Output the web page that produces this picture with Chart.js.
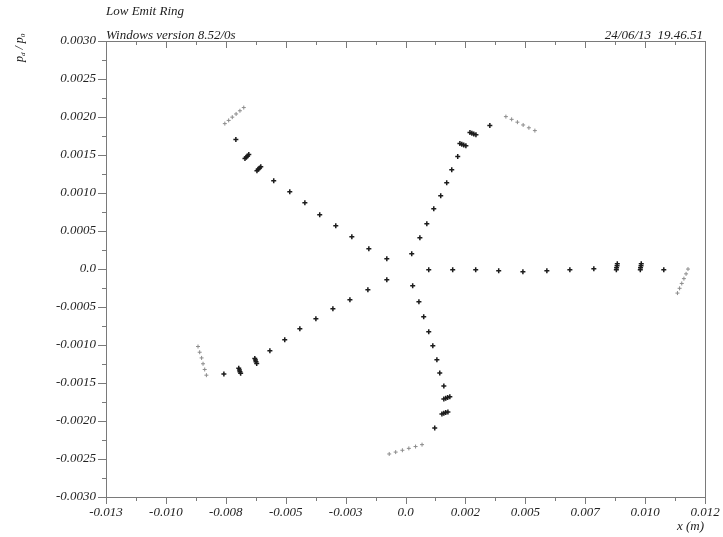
<!DOCTYPE html>
<html>
<head>
<meta charset="utf-8">
<script src="https://cdn.jsdelivr.net/npm/chart.js@4"></script>
<style>
  body { margin: 0; background: #fff; }
  #wrap { width: 723px; height: 537px; }
</style>
</head>
<body>
<div id="wrap"><canvas id="chart" width="723" height="537"></canvas></div>
<script>
// header texts
const runTitle = "Low Emit Ring";
const versionText = "Windows version 8.52/0s";
const stampText = "24/06/13  19.46.51";
const xTitle = "x (m)";

// tick labels (as printed on the plot)
const xTickLabels = ["-0.013", "-0.010", "-0.008", "-0.005", "-0.003", "0.0", "0.002", "0.005", "0.007", "0.010", "0.012"];
const yTickLabels = ["-0.0030", "-0.0025", "-0.0020", "-0.0015", "-0.0010", "-0.0005", "0.0",
  "0.0005", "0.0010", "0.0015", "0.0020", "0.0025", "0.0030"];

// tracked particles, 5 arms (x in m, dp/p0)
const ulX = [-0.00078, -0.00153, -0.00224, -0.00291, -0.00358, -0.00420, -0.00483, -0.00550, -0.00620, -0.00615, -0.00609, -0.00604, -0.00670, -0.00665, -0.00659, -0.00654, -0.00708];
const ulY = [0.000135, 0.000267, 0.000425, 0.000570, 0.000715, 0.000873, 0.001018, 0.001162, 0.001294, 0.001311, 0.001329, 0.001346, 0.001453, 0.001470, 0.001488, 0.001505, 0.001703];
const urX = [0.00026, 0.00060, 0.00089, 0.00118, 0.00147, 0.00172, 0.00193, 0.00218, 0.00227, 0.00235, 0.00243, 0.00252, 0.00269, 0.00277, 0.00285, 0.00294, 0.00352];
const urY = [0.000201, 0.000412, 0.000596, 0.000794, 0.000965, 0.001136, 0.001307, 0.001479, 0.001651, 0.001642, 0.001632, 0.001622, 0.001796, 0.001787, 0.001777, 0.001767, 0.001887];
const rX = [0.00097, 0.00197, 0.00293, 0.00389, 0.00490, 0.00590, 0.00686, 0.00786, 0.00884, 0.00883, 0.00881, 0.00880, 0.00984, 0.00983, 0.00981, 0.00980, 0.01078];
const rY = [-0.000010, -0.000010, -0.000010, -0.000023, -0.000036, -0.000023, -0.000010, 0.000003, 0.000070, 0.000043, 0.000017, -0.000010, 0.000070, 0.000043, 0.000017, -0.000010, -0.000010];
const llX = [-0.00078, -0.00157, -0.00232, -0.00303, -0.00374, -0.00441, -0.00504, -0.00566, -0.00629, -0.00626, -0.00624, -0.00621, -0.00696, -0.00693, -0.00691, -0.00688, -0.00758];
const llY = [-0.000142, -0.000273, -0.000405, -0.000524, -0.000655, -0.000787, -0.000932, -0.001077, -0.001176, -0.001198, -0.001220, -0.001242, -0.001307, -0.001329, -0.001351, -0.001373, -0.001380];
const lwX = [0.00030, 0.00056, 0.00076, 0.00097, 0.00114, 0.00131, 0.00143, 0.00160, 0.00160, 0.00168, 0.00176, 0.00185, 0.00152, 0.00160, 0.00168, 0.00177, 0.00122];
const lwY = [-0.000221, -0.000431, -0.000629, -0.000827, -0.001011, -0.001195, -0.001367, -0.001538, -0.001710, -0.001701, -0.001691, -0.001682, -0.001908, -0.001899, -0.001889, -0.001880, -0.002091];

// outermost particle (grey crosses)
const ulOutX = [-0.00754, -0.00738, -0.00723, -0.00707, -0.00691, -0.00675];
const ulOutY = [0.001913, 0.001955, 0.001998, 0.002040, 0.002082, 0.002124];
const urOutX = [0.00419, 0.00443, 0.00467, 0.00491, 0.00515, 0.00540];
const urOutY = [0.002005, 0.001969, 0.001932, 0.001895, 0.001858, 0.001821];
const rOutX = [0.01179, 0.01171, 0.01162, 0.01153, 0.01144, 0.01135];
const rOutY = [-0.000001, -0.000064, -0.000127, -0.000190, -0.000254, -0.000317];
const llOutX = [-0.00866, -0.00859, -0.00851, -0.00845, -0.00838, -0.00831];
const llOutY = [-0.001020, -0.001095, -0.001170, -0.001247, -0.001322, -0.001397];
const lwOutX = [-0.00068, -0.00041, -0.00013, 0.00014, 0.00042, 0.00069];
const lwOutY = [-0.002434, -0.002409, -0.002385, -0.002360, -0.002336, -0.002311];

const toPoints = (pairs) => pairs.flatMap(([xs, ys]) => xs.map((x, i) => ({ x: x, y: ys[i] })));

const X_MIN = -0.0125, X_MAX = 0.0125, X_STEP = 0.00125;
const Y_MIN = -0.003, Y_MAX = 0.003, Y_STEP = 0.00025;
const xIndex = (v) => Math.round((v - X_MIN) / X_STEP);
const yIndex = (v) => Math.round((v - Y_MIN) / Y_STEP);

const serif = "'Liberation Serif', 'DejaVu Serif', serif";

// draws the box, the tick marks (major/minor) and the header texts
const framePlugin = {
  id: "frame",
  afterDraw(chart) {
    const ctx = chart.ctx;
    const a = chart.chartArea;
    const xs = chart.scales.x, ys = chart.scales.y;
    ctx.save();
    ctx.strokeStyle = "#7a7a7a";
    ctx.lineWidth = 1;
    ctx.strokeRect(Math.round(a.left) + 0.5, Math.round(a.top) + 0.5,
      Math.round(a.right - a.left), Math.round(a.bottom - a.top));
    ctx.beginPath();
    xs.ticks.forEach((t) => {
      const px = Math.round(xs.getPixelForValue(t.value)) + 0.5;
      const len = xIndex(t.value) % 2 === 0 ? 7 : 4;
      ctx.moveTo(px, Math.round(a.bottom));
      ctx.lineTo(px, Math.round(a.bottom) + len);
      ctx.moveTo(px, Math.round(a.top));
      ctx.lineTo(px, Math.round(a.top) + len);
    });
    ys.ticks.forEach((t) => {
      const py = Math.round(ys.getPixelForValue(t.value)) + 0.5;
      const len = yIndex(t.value) % 2 === 0 ? 8 : 4;
      ctx.moveTo(Math.round(a.left), py);
      ctx.lineTo(Math.round(a.left) - len, py);
    });
    ctx.stroke();

    ctx.fillStyle = "#222";
    ctx.font = "italic 13px " + serif;
    ctx.textBaseline = "middle";
    ctx.textAlign = "left";
    ctx.fillText(runTitle, a.left, 12);
    ctx.fillText(versionText, a.left, 36);
    ctx.textAlign = "right";
    ctx.fillText(stampText, a.right - 2, 36);
    ctx.fillText(xTitle, a.right - 1, 527);

    // y title p_d / p_0, rotated
    ctx.translate(19, 62);
    ctx.rotate(-Math.PI / 2);
    ctx.textAlign = "left";
    ctx.textBaseline = "alphabetic";
    let cx = 0;
    const put = (s, size, dy) => {
      ctx.font = "italic " + size + "px " + serif;
      ctx.fillText(s, cx, dy);
      cx += ctx.measureText(s).width;
    };
    put("p", 12, 4);
    put("d", 7, 6);
    put(" / p", 12, 4);
    put("0", 7, 6);
    ctx.restore();
  }
};

new Chart(document.getElementById("chart").getContext("2d"), {
  type: "scatter",
  data: {
    datasets: [
      {
        label: "tracked",
        data: toPoints([[ulX, ulY], [urX, urY], [rX, rY], [llX, llY], [lwX, lwY]]),
        pointStyle: "cross",
        pointRadius: 2.5,
        borderWidth: 1.5,
        borderColor: "#1c1c1c",
        backgroundColor: "#1c1c1c",
      },
      {
        label: "outer",
        data: toPoints([[ulOutX, ulOutY], [urOutX, urOutY], [rOutX, rOutY], [llOutX, llOutY], [lwOutX, lwOutY]]),
        pointStyle: "cross",
        pointRadius: 2,
        borderWidth: 1,
        borderColor: "#8c8c8c",
        backgroundColor: "#8c8c8c",
      },
    ],
  },
  options: {
    responsive: false,
    devicePixelRatio: 1,
    animation: false,
    events: [],
    layout: { padding: { top: 41, right: 18, left: 0, bottom: 0 } },
    plugins: {
      legend: { display: false },
      tooltip: { enabled: false },
    },
    scales: {
      x: {
        type: "linear",
        min: X_MIN,
        max: X_MAX,
        border: { display: false },
        grid: { display: false, drawTicks: false },
        afterFit: (scale) => {
          scale.height = 40;
          scale.paddingLeft = 0;
          scale.paddingRight = 0;
        },
        ticks: {
          stepSize: X_STEP,
          autoSkip: false,
          maxRotation: 0,
          padding: 8,
          color: "#222",
          font: { family: serif, style: "italic", size: 13 },
          callback: (v) => {
            const i = xIndex(v);
            return i % 2 === 0 ? xTickLabels[i / 2] : "";
          },
        },
      },
      y: {
        type: "linear",
        min: Y_MIN,
        max: Y_MAX,
        border: { display: false },
        grid: { display: false, drawTicks: false },
        afterFit: (scale) => {
          scale.width = 106;
          scale.paddingTop = 0;
          scale.paddingBottom = 0;
        },
        ticks: {
          stepSize: Y_STEP,
          autoSkip: false,
          padding: 10,
          color: "#222",
          font: { family: serif, style: "italic", size: 13 },
          callback: (v) => {
            const i = yIndex(v);
            return i % 2 === 0 ? yTickLabels[i / 2] : "";
          },
        },
      },
    },
  },
  plugins: [framePlugin],
});
</script>
</body>
</html>
